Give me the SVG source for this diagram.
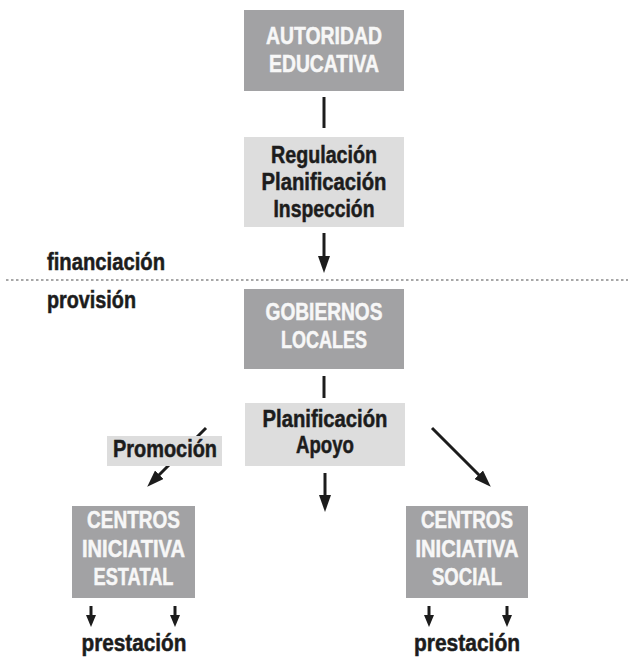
<svg xmlns="http://www.w3.org/2000/svg" width="628" height="657" viewBox="0 0 628 657">
<defs>
<style>
text{font-family:"Liberation Sans",Arial,sans-serif;font-weight:bold;font-size:23px;stroke-width:0.5px;}
.dk{fill:#a2a2a4;}
.lt{fill:#dddddd;}
.wt{fill:#f7f7f7;stroke:#f7f7f7;text-anchor:middle;}
.bt{fill:#1c1c1c;stroke:#1c1c1c;text-anchor:middle;}
.lb{fill:#1c1c1c;stroke:#1c1c1c;}
.cn{stroke:#1c1c1c;stroke-width:3;fill:none;}
</style>
<marker id="ah" markerUnits="userSpaceOnUse" viewBox="0 0 17 12" refX="6" refY="6" markerWidth="17" markerHeight="12" orient="auto">
<path d="M0,0 L17,6 L0,12 Z" fill="#1c1c1c"/>
</marker>
<marker id="as" markerUnits="userSpaceOnUse" viewBox="0 0 12 10" refX="4" refY="5" markerWidth="12" markerHeight="10" orient="auto">
<path d="M0,0 L12,5 L0,10 Z" fill="#1c1c1c"/>
</marker>
</defs>
<rect width="628" height="657" fill="#ffffff"/>
<line x1="6" y1="280" x2="628" y2="280" stroke="#8a8a8a" stroke-width="1.5" stroke-dasharray="2.5 2.5"/>
<text class="lb" x="47" y="270" textLength="118" lengthAdjust="spacingAndGlyphs">financiación</text>
<text class="lb" x="47" y="308" textLength="89" lengthAdjust="spacingAndGlyphs">provisión</text>
<g id="connectors">
<line class="cn" x1="324" y1="97" x2="324" y2="128"/>
<line class="cn" x1="324" y1="233" x2="324" y2="262" marker-end="url(#ah)"/>
<line class="cn" x1="324" y1="376" x2="324" y2="398"/>
<line class="cn" x1="325" y1="473" x2="325" y2="501" marker-end="url(#ah)"/>
<line class="cn" x1="432" y1="428" x2="483" y2="479" marker-end="url(#ah)"/>
<line class="cn" x1="206" y1="428" x2="155" y2="479" marker-end="url(#ah)"/>
<line class="cn" x1="91" y1="606" x2="91" y2="619" marker-end="url(#as)"/>
<line class="cn" x1="175" y1="606" x2="175" y2="619" marker-end="url(#as)"/>
<line class="cn" x1="429" y1="606" x2="429" y2="619" marker-end="url(#as)"/>
<line class="cn" x1="507" y1="606" x2="507" y2="619" marker-end="url(#as)"/>
</g>
<g id="autoridad">
<rect class="dk" x="244" y="10" width="160" height="81"/>
<text class="wt" x="324" y="44" textLength="116" lengthAdjust="spacingAndGlyphs">AUTORIDAD</text>
<text class="wt" x="324" y="72" textLength="110" lengthAdjust="spacingAndGlyphs">EDUCATIVA</text>
</g>
<g id="regulacion">
<rect class="lt" x="244" y="137" width="160" height="90"/>
<text class="bt" x="324" y="163" textLength="106" lengthAdjust="spacingAndGlyphs">Regulación</text>
<text class="bt" x="324" y="190" textLength="125" lengthAdjust="spacingAndGlyphs">Planificación</text>
<text class="bt" x="324" y="217" textLength="101" lengthAdjust="spacingAndGlyphs">Inspección</text>
</g>
<g id="gobiernos">
<rect class="dk" x="244" y="289" width="160" height="80"/>
<text class="wt" x="324" y="320" textLength="117" lengthAdjust="spacingAndGlyphs">GOBIERNOS</text>
<text class="wt" x="324" y="348" textLength="86" lengthAdjust="spacingAndGlyphs">LOCALES</text>
</g>
<g id="planificacion">
<rect class="lt" x="245" y="403" width="160" height="63"/>
<text class="bt" x="325" y="427" textLength="125" lengthAdjust="spacingAndGlyphs">Planificación</text>
<text class="bt" x="325" y="453" textLength="58" lengthAdjust="spacingAndGlyphs">Apoyo</text>
</g>
<g id="promocion">
<rect class="lt" x="107" y="436" width="115" height="30"/>
<text class="bt" x="165" y="457" textLength="104" lengthAdjust="spacingAndGlyphs">Promoción</text>
</g>
<g id="estatal">
<rect class="dk" x="72" y="506" width="123" height="92"/>
<text class="wt" x="133.5" y="528" textLength="93" lengthAdjust="spacingAndGlyphs">CENTROS</text>
<text class="wt" x="133.5" y="557" textLength="103" lengthAdjust="spacingAndGlyphs">INICIATIVA</text>
<text class="wt" x="133.5" y="585" textLength="80" lengthAdjust="spacingAndGlyphs">ESTATAL</text>
</g>
<g id="social">
<rect class="dk" x="406" y="506" width="122" height="92"/>
<text class="wt" x="467" y="528" textLength="92" lengthAdjust="spacingAndGlyphs">CENTROS</text>
<text class="wt" x="467" y="557" textLength="103" lengthAdjust="spacingAndGlyphs">INICIATIVA</text>
<text class="wt" x="467" y="585" textLength="70" lengthAdjust="spacingAndGlyphs">SOCIAL</text>
</g>
<g id="prestacion-estatal">
<text class="bt" x="134" y="651" textLength="105" lengthAdjust="spacingAndGlyphs">prestación</text>
</g>
<g id="prestacion-social">
<text class="bt" x="467" y="651" textLength="106" lengthAdjust="spacingAndGlyphs">prestación</text>
</g>
</svg>
